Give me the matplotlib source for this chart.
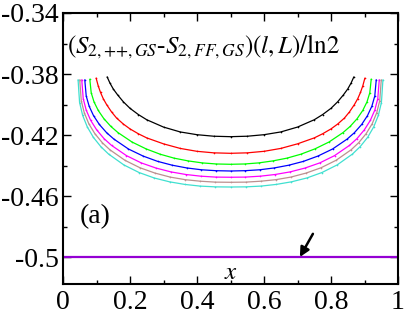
import matplotlib
matplotlib.use("Agg")
import matplotlib.pyplot as plt
from matplotlib.ticker import MultipleLocator

plt.rcParams['font.family'] = ['Liberation Serif', 'DejaVu Serif']
plt.rcParams['mathtext.fontset'] = 'stix'
plt.rcParams['axes.unicode_minus'] = False

# ---- data ----
colors = ['black', 'red', '#00ff00', 'blue', 'magenta', '#bc8f8f', '#40e0d0']

x_black = [0.132, 0.14, 0.15, 0.163, 0.18, 0.2, 0.225, 0.25, 0.3, 0.35, 0.4, 0.45, 0.5,
           0.55, 0.6, 0.65, 0.7, 0.75, 0.775, 0.8, 0.82, 0.837, 0.85, 0.86, 0.868]
y_black = [-0.3820, -0.3859, -0.3898, -0.3937, -0.3982, -0.4025, -0.4066, -0.4100, -0.4148, -0.4180, -0.4198, -0.4208, -0.4211,
           -0.4208, -0.4198, -0.4180, -0.4148, -0.4100, -0.4066, -0.4025, -0.3982, -0.3937, -0.3898, -0.3859, -0.3820]

x_red = [0.099, 0.105, 0.112, 0.12, 0.13, 0.145, 0.16, 0.18, 0.2, 0.225, 0.25, 0.3, 0.35, 0.4, 0.45, 0.5,
         0.55, 0.6, 0.65, 0.7, 0.75, 0.775, 0.8, 0.82, 0.84, 0.855, 0.87, 0.88, 0.888, 0.895, 0.901]
y_red = [-0.3828, -0.3877, -0.3921, -0.3961, -0.4000, -0.4049, -0.4089, -0.4128, -0.4160, -0.4192, -0.4219, -0.4258, -0.4288, -0.4307, -0.4317, -0.4320,
         -0.4317, -0.4307, -0.4288, -0.4258, -0.4219, -0.4192, -0.4160, -0.4128, -0.4089, -0.4049, -0.4000, -0.3961, -0.3921, -0.3877, -0.3828]

x_green = [0.080, 0.0842, 0.0926, 0.1052, 0.122, 0.143, 0.164, 0.206, 0.248, 0.29, 0.332, 0.374, 0.416, 0.458, 0.5,
           0.542, 0.584, 0.626, 0.668, 0.71, 0.752, 0.794, 0.836, 0.857, 0.878, 0.8948, 0.9074, 0.9158, 0.920]
y_green = [-0.3835, -0.3923, -0.3983, -0.4039, -0.4093, -0.4144, -0.4184, -0.4246, -0.4291, -0.4326, -0.4352, -0.4370, -0.4383, -0.4390, -0.4392,
           -0.4390, -0.4383, -0.4370, -0.4352, -0.4326, -0.4291, -0.4246, -0.4184, -0.4144, -0.4093, -0.4039, -0.3983, -0.3923, -0.3835]

x_blue = [0.065, 0.0693, 0.078, 0.0911, 0.1085, 0.1302, 0.152, 0.1955, 0.239, 0.2825, 0.326, 0.3695, 0.413, 0.4565, 0.5,
          0.5435, 0.587, 0.6305, 0.674, 0.7175, 0.761, 0.8045, 0.848, 0.8698, 0.8915, 0.9089, 0.922, 0.9307, 0.935]
y_blue = [-0.3839, -0.3944, -0.4011, -0.4073, -0.4131, -0.4185, -0.4227, -0.4292, -0.4338, -0.4373, -0.4398, -0.4416, -0.4428, -0.4434, -0.4436,
          -0.4434, -0.4428, -0.4416, -0.4398, -0.4373, -0.4338, -0.4292, -0.4227, -0.4185, -0.4131, -0.4073, -0.4011, -0.3944, -0.3839]

x_magenta = [0.056, 0.0604, 0.0693, 0.0826, 0.1004, 0.1226, 0.1448, 0.1892, 0.2336, 0.278, 0.3224, 0.3668, 0.4112, 0.4556, 0.5,
             0.5444, 0.5888, 0.6332, 0.6776, 0.722, 0.7664, 0.8108, 0.8552, 0.8774, 0.8996, 0.9174, 0.9307, 0.9396, 0.944]
y_magenta = [-0.3839, -0.3962, -0.4037, -0.4104, -0.4166, -0.4224, -0.4268, -0.4335, -0.4383, -0.4417, -0.4442, -0.4459, -0.4470, -0.4476, -0.4477,
             -0.4476, -0.4470, -0.4459, -0.4442, -0.4417, -0.4383, -0.4335, -0.4268, -0.4224, -0.4166, -0.4104, -0.4037, -0.3962, -0.3839]

x_brown = [0.05, 0.0545, 0.0635, 0.077, 0.095, 0.1175, 0.14, 0.185, 0.23, 0.275, 0.32, 0.365, 0.41, 0.455, 0.5,
           0.545, 0.59, 0.635, 0.68, 0.725, 0.77, 0.815, 0.86, 0.8825, 0.905, 0.923, 0.9365, 0.9455, 0.95]
y_brown = [-0.3839, -0.3975, -0.4054, -0.4126, -0.4191, -0.4251, -0.4297, -0.4366, -0.4415, -0.4450, -0.4476, -0.4493, -0.4503, -0.4509, -0.4510,
           -0.4509, -0.4503, -0.4493, -0.4476, -0.4450, -0.4415, -0.4366, -0.4297, -0.4251, -0.4191, -0.4126, -0.4054, -0.3975, -0.3839]

x_cyan = [0.045, 0.0495, 0.0586, 0.0723, 0.0905, 0.1132, 0.136, 0.1815, 0.227, 0.2725, 0.318, 0.3635, 0.409, 0.4545, 0.5,
          0.5455, 0.591, 0.6365, 0.682, 0.7275, 0.773, 0.8185, 0.864, 0.8868, 0.9095, 0.9277, 0.9414, 0.9505, 0.955]
y_cyan = [-0.3839, -0.3987, -0.4071, -0.4146, -0.4215, -0.4277, -0.4325, -0.4396, -0.4446, -0.4482, -0.4507, -0.4524, -0.4535, -0.4540, -0.4541,
          -0.4540, -0.4535, -0.4524, -0.4507, -0.4482, -0.4446, -0.4396, -0.4325, -0.4277, -0.4215, -0.4146, -0.4071, -0.3987, -0.3839]

x_flat = [0.0, 1.0]
y_flat = [-0.5, -0.5]

xticks = [0, 0.2, 0.4, 0.6, 0.8, 1.0]
xtick_labels = ['0', '0.2', '0.4', '0.6', '0.8', '1']
yticks = [-0.5, -0.46, -0.42, -0.38, -0.34]
ytick_labels = ['-0.5', '-0.46', '-0.42', '-0.38', '-0.34']

series_x = [x_black, x_red, x_green, x_blue, x_magenta, x_brown, x_cyan]
series_y = [y_black, y_red, y_green, y_blue, y_magenta, y_brown, y_cyan]

# ---- figure ----
fig = plt.figure(figsize=(4.07, 3.15), dpi=100)
ax = fig.add_axes([63 / 407, 31 / 315, 335 / 407, 271 / 315])

for xs, ys, c in zip(series_x, series_y, colors):
    ax.plot(xs, ys, color=c, lw=0.9, marker='o', ms=1.2, mew=0)

ax.plot(x_flat, y_flat, color='#9400d3', lw=1.6)

ax.annotate('', xy=(0.707, -0.5), xytext=(0.746, -0.4848),
            arrowprops=dict(arrowstyle='-|>', color='black', lw=1.8,
                            mutation_scale=14, shrinkA=0, shrinkB=0))

ax.set_xlim(0, 1)
ax.set_ylim(-0.5177, -0.34)
ax.set_xticks(xticks)
ax.set_xticklabels(xtick_labels)
ax.set_yticks(yticks)
ax.set_yticklabels(ytick_labels)
ax.xaxis.set_minor_locator(MultipleLocator(0.1))
ax.yaxis.set_minor_locator(MultipleLocator(0.02))
ax.tick_params(which='both', direction='in', top=True, right=True, labelsize=20, width=1.0)
ax.tick_params(which='major', length=6)
ax.tick_params(which='minor', length=3)
ax.tick_params(axis='x', pad=4)
ax.tick_params(axis='y', pad=3)
for s in ax.spines.values():
    s.set_linewidth(1.5)

ax.text(0.013, -0.3625, r'$(S_{2,{+}{+},GS}$-$S_{2,FF,GS})(l,L)/\mathrm{ln}2$',
        fontsize=18, va='center', ha='left')
ax.text(0.05, -0.4735, '(a)', fontsize=20, va='center', ha='left')
ax.text(0.5, -0.5105, r'$x$', fontsize=18, va='center', ha='center')

fig.savefig('out.png', dpi=100)
